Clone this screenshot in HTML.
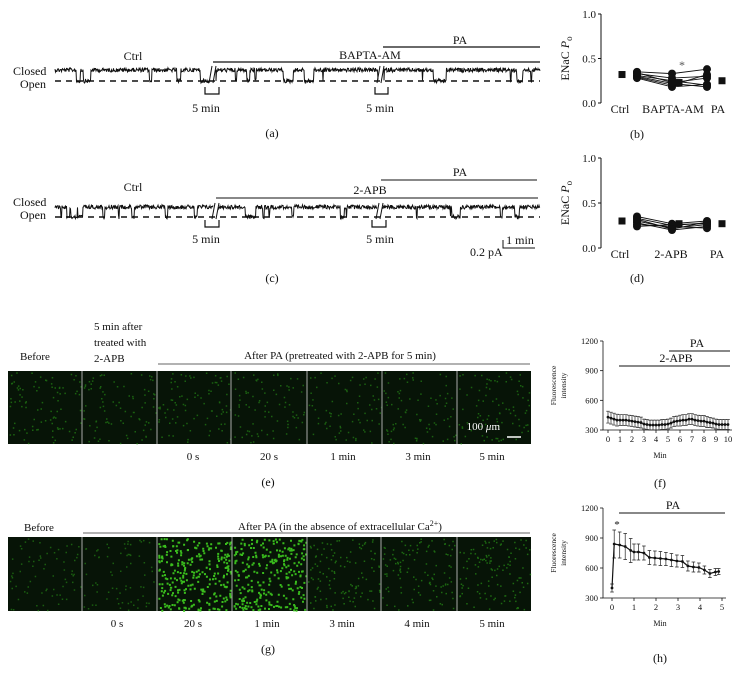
<!DOCTYPE html>
<html><head><meta charset="utf-8"><style>
html,body{margin:0;padding:0;background:#fff;}
svg{display:block;font-family:"Liberation Serif",serif;}
</style></head><body>
<svg id="fig" width="740" height="676" viewBox="0 0 740 676" xmlns="http://www.w3.org/2000/svg">
<g id="static" fill="#111" font-size="12">
<text x="13" y="75">Closed</text>
<text x="20" y="88">Open</text>
<text x="133" y="60" text-anchor="middle">Ctrl</text>
<text x="370" y="59" text-anchor="middle">BAPTA-AM</text>
<line x1="213" y1="62" x2="540" y2="62" stroke="#111" stroke-width="1.2"/>
<text x="460" y="44" text-anchor="middle">PA</text>
<line x1="383" y1="47" x2="540" y2="47" stroke="#111" stroke-width="1.2"/>
<text x="206" y="112" text-anchor="middle">5 min</text>
<text x="380" y="112" text-anchor="middle">5 min</text>
<text x="272" y="137" text-anchor="middle">(a)</text>
<text x="13" y="206">Closed</text>
<text x="20" y="219">Open</text>
<text x="133" y="191" text-anchor="middle">Ctrl</text>
<text x="370" y="194" text-anchor="middle">2-APB</text>
<line x1="216" y1="198" x2="538" y2="198" stroke="#111" stroke-width="1"/>
<text x="460" y="176" text-anchor="middle">PA</text>
<line x1="381" y1="180" x2="537" y2="180" stroke="#111" stroke-width="1"/>
<text x="206" y="243" text-anchor="middle">5 min</text>
<text x="380" y="243" text-anchor="middle">5 min</text>
<text x="520" y="244" text-anchor="middle">1 min</text>
<text x="470" y="256">0.2 pA</text>
<polyline points="503,240 503,248 535,248" fill="none" stroke="#111" stroke-width="1"/>
<text x="272" y="282" text-anchor="middle">(c)</text>
<text x="637" y="138" text-anchor="middle">(b)</text>
<text x="637" y="282" text-anchor="middle">(d)</text>
<text x="20" y="360" font-size="11">Before</text>
<text x="94" y="330" font-size="11"><tspan x="94">5 min after</tspan><tspan x="94" dy="16">treated with</tspan><tspan x="94" dy="16">2-APB</tspan></text>
<text x="340" y="359" text-anchor="middle" font-size="11">After PA (pretreated with 2-APB for 5 min)</text>
<line x1="158" y1="364" x2="530" y2="364" stroke="#333" stroke-width="0.8"/>
<text x="268" y="486" text-anchor="middle">(e)</text>
<text x="24" y="531" font-size="11">Before</text>
<text x="340" y="530" text-anchor="middle" font-size="11">After PA (in the absence of extracellular Ca<tspan dy="-4" font-size="8">2+</tspan><tspan dy="4">)</tspan></text>
<line x1="83" y1="533" x2="530" y2="533" stroke="#333" stroke-width="0.8"/>
<text x="268" y="653" text-anchor="middle">(g)</text>
<text x="660" y="487" text-anchor="middle">(f)</text>
<text x="660" y="662" text-anchor="middle">(h)</text>
</g>
<g id="dyn"></g>
</svg>
<script>
const bCtrl = [0.35,0.33,0.31,0.30,0.29,0.28,0.34];
const bBapta = [0.33,0.28,0.25,0.22,0.20,0.18,0.23];
const bPA = [0.38,0.30,0.20,0.18,0.32,0.21,0.28];
const bMeans = [0.32,0.23,0.25];
const dCtrl = [0.35,0.33,0.30,0.28,0.26,0.24,0.32];
const dApb = [0.27,0.25,0.22,0.20,0.24,0.26,0.21];
const dPA = [0.30,0.28,0.26,0.24,0.22,0.27,0.29];
const dMeans = [0.30,0.27,0.27];
const poTicks = [0.0,0.5,1.0];
const fTime = [0,0.25,0.5,0.75,1,1.25,1.5,1.75,2,2.25,2.5,2.75,3,3.25,3.5,3.75,4,4.25,4.5,4.75,5,5.25,5.5,5.75,6,6.25,6.5,6.75,7,7.25,7.5,7.75,8,8.25,8.5,8.75,9,9.25,9.5,9.75,10];
const fMean = [430,420,410,400,400,400,400,395,390,385,380,375,360,355,350,350,350,350,355,355,360,370,385,390,395,400,400,410,410,400,395,390,390,380,375,370,360,355,355,355,355];
const fErr = [60,60,60,60,55,55,55,55,55,55,55,55,50,50,50,50,50,50,50,50,50,50,50,50,55,55,55,55,55,55,55,55,55,55,50,50,50,50,50,50,50];
const hTime = [0,0.1,0.35,0.6,0.85,1.0,1.2,1.45,1.7,1.95,2.2,2.45,2.7,2.95,3.2,3.45,3.7,3.95,4.2,4.45,4.7,4.85];
const hMean = [400,840,830,815,775,760,760,750,705,700,695,690,680,670,665,620,610,605,580,545,560,565];
const hErr = [40,140,130,130,120,80,80,70,70,70,70,65,65,60,60,50,50,45,40,40,35,30];
const fTicksX = [0,1,2,3,4,5,6,7,8,9,10];
const hTicksX = [0,1,2,3,4,5];
const fluoTicks = [300,600,900,1200];

const NS='http://www.w3.org/2000/svg';
const dyn=document.getElementById('dyn');
function mk(tag,attrs,parent){const e=document.createElementNS(NS,tag);for(const k in attrs)e.setAttribute(k,attrs[k]);(parent||dyn).appendChild(e);return e;}
let seed=12345;function rnd(){seed=(seed*1103515245+12345)&0x7fffffff;return seed/0x7fffffff;}

function trace(y0,y1,x0,x1,breaks,name,flick){
  const g=mk('g',{});
  
  
  const dl=mk('line',{x1:x0,y1:y1,x2:x1,y2:y1,stroke:'#111','stroke-width':1.4,'stroke-dasharray':'6,5'},g);
  
  
  let d='M'+x0+' '+y0;let open=false;
  for(let x=x0;x<=x1;x+=0.5){
    let skip=breaks.some(b=>x>b-3&&x<b+3);
    if(skip){d+=' M'+(x+0.5)+' '+y0;continue;}
    if(!open&&rnd()<flick){open=true;}else if(open&&rnd()<0.15){open=false;}
    const base=open?y1:y0;
    d+=' L'+x+' '+(base+(rnd()-0.5)*4).toFixed(1);
  }
  const p=mk('path',{d:d,fill:'none',stroke:'#111','stroke-width':1},g);
  
  
  breaks.forEach(b=>{
    const s=mk('path',{d:`M${b-4} ${y1+2} L${b-1} ${y0-4} M${b} ${y1+2} L${b+3} ${y0-4}`,stroke:'#111','stroke-width':1,fill:'none'},g);
    
    
  });
}
trace(70,81,55,540,[213,381],'trace-a',0.02);
trace(207,217,55,540,[216,380],'trace-c',0.03);
[[205,219,87,94],[375,388,87,94],[205,219,220,227],[372,386,220,227]].forEach(b=>{
  const br=mk('polyline',{points:`${b[0]},${b[2]} ${b[0]},${b[3]} ${b[1]},${b[3]} ${b[1]},${b[2]}`,fill:'none',stroke:'#111','stroke-width':1.2});
  
  
});

function poPanel(yTop,yBot,ctrl,mid,pa,means,labels,labelX,name,star){
  const g=mk('g',{});
  
  
  const ax=601;
  const ys=v=>yBot-(v)*(yBot-yTop);
  const axl=mk('line',{x1:ax,y1:yTop,x2:ax,y2:yBot,stroke:'#111','stroke-width':1},g);
  
  
  poTicks.forEach(t=>{
    const tk=mk('line',{x1:ax-3,y1:ys(t),x2:ax,y2:ys(t),stroke:'#111'},g);
    
    
    const tl=mk('text',{x:ax-5,y:ys(t)+4,'text-anchor':'end','font-size':11,fill:'#111'},g);
    
    
    tl.textContent=t.toFixed(1);
  });
  const yl=mk('text',{transform:`translate(569,${(yTop+yBot)/2}) rotate(-90)`,'text-anchor':'middle','font-size':12,fill:'#111'},g);
  
  
  yl.innerHTML='ENaC <tspan font-style="italic">P</tspan><tspan font-size="9" dy="3">o</tspan>';
  const cx=[637,672,707];const cols=[ctrl,mid,pa];
  for(let i=0;i<ctrl.length;i++){
    const ln=mk('polyline',{points:`${cx[0]},${ys(ctrl[i])} ${cx[1]},${ys(mid[i])} ${cx[2]},${ys(pa[i])}`,fill:'none',stroke:'#111','stroke-width':0.9},g);
    
    
  }
  cols.forEach((arr,ci)=>arr.forEach(v=>{
    const c=mk('circle',{cx:cx[ci],cy:ys(v),r:4,fill:'#111'},g);
    
    
  }));
  [[622,means[0]],[679,means[1]],[722,means[2]]].forEach(m=>{
    const s=mk('rect',{x:m[0]-3.5,y:ys(m[1])-3.5,width:7,height:7,fill:'#111'},g);
    
    
  });
  labels.forEach((l,i)=>{
    const t=mk('text',{x:labelX[i],y:yBot+10,'text-anchor':'middle','font-size':12,fill:'#111'},g);
    
    
    t.textContent=l;
  });
  if(star){const st=mk('text',{x:682,y:ys(0.38),'text-anchor':'middle','font-size':12,fill:'#555'},g);
    
    
    st.textContent='*';}
}
poPanel(14,103,bCtrl,bBapta,bPA,bMeans,['Ctrl','BAPTA-AM','PA'],[620,673,718],'po-chart-b',true);
poPanel(158,248,dCtrl,dApb,dPA,dMeans,['Ctrl','2-APB','PA'],[620,671,717],'po-chart-d',false);

function imgRow(y0,y1,edges,bright,name){
  const g=mk('g',{});
  
  
  for(let i=0;i<edges.length-1;i++){
    const x0=edges[i],x1=edges[i+1];
    const r=mk('rect',{x:x0,y:y0,width:x1-x0,height:y1-y0,fill:'#071407'},g);
    
    
    const b=bright[i];const n=Math.round(40+b*260);
    let d='';
    for(let k=0;k<n;k++){const x=x0+1+rnd()*(x1-x0-2),y=y0+1+rnd()*(y1-y0-2);const s=b>0.5?2:1.5;d+=`M${x.toFixed(1)} ${y.toFixed(1)}h${s}v${s}h-${s}z`;}
    const p=mk('path',{d:d,fill:b>0.5?'#40d020':'#2a9a18','fill-opacity':0.5+0.45*b},g);
    
    
    if(i>0){const sep=mk('line',{x1:x0,y1:y0,x2:x0,y2:y1,stroke:'#aaa','stroke-width':1},g);
      
      }
  }
}
imgRow(371,444,[8,82,157,231,307,382,457,531],[0.2,0.18,0.18,0.16,0.14,0.16,0.18],'image-row-e');
imgRow(537,611,[8,82,157,232,307,381,457,531],[0.12,0.12,0.9,0.85,0.3,0.28,0.3],'image-row-g');
const sb=mk('text',{x:500,y:430,'text-anchor':'end','font-size':11,fill:'#fff'});


sb.innerHTML='100 <tspan font-style="italic">μ</tspan>m';
const sbl=mk('line',{x1:507,y1:437,x2:521,y2:437,stroke:'#fff','stroke-width':1.5});


[['0 s',193],['20 s',269],['1 min',343],['3 min',418],['5 min',492]].forEach(l=>{
  const t=mk('text',{x:l[1],y:460,'text-anchor':'middle','font-size':11,fill:'#111'});
  
  
  t.textContent=l[0];
});
[['0 s',117],['20 s',193],['1 min',267],['3 min',342],['4 min',417],['5 min',492]].forEach(l=>{
  const t=mk('text',{x:l[1],y:627,'text-anchor':'middle','font-size':11,fill:'#111'});
  
  
  t.textContent=l[0];
});

function fluoChart(yTop,yBot,x0,x1,xmax,xt,T,M,E,name,bars,star){
  const g=mk('g',{});
  
  
  const ax=603;
  const xs=v=>x0+v/xmax*(x1-x0);
  const ys=v=>yBot-(v-300)/900*(yBot-yTop);
  const a1=mk('polyline',{points:`${ax},${yTop} ${ax},${yBot} ${x1+4},${yBot}`,fill:'none',stroke:'#111','stroke-width':0.8},g);
  
  
  fluoTicks.forEach(t=>{
    const tk=mk('line',{x1:ax-3,y1:ys(t),x2:ax,y2:ys(t),stroke:'#111','stroke-width':0.8},g);
    
    
    const tl=mk('text',{x:ax-5,y:ys(t)+3,'text-anchor':'end','font-size':8.5,fill:'#111'},g);
    
    
    tl.textContent=t;
  });
  xt.forEach(t=>{
    const tk=mk('line',{x1:xs(t),y1:yBot,x2:xs(t),y2:yBot+3,stroke:'#111','stroke-width':0.8},g);
    
    
    const tl=mk('text',{x:xs(t),y:yBot+12,'text-anchor':'middle','font-size':8.5,fill:'#111'},g);
    
    
    tl.textContent=t;
  });
  const xl=mk('text',{x:660,y:yBot+28,'text-anchor':'middle','font-size':8,fill:'#111'},g);
  
  
  xl.textContent='Min';
  const yl=mk('text',{transform:`translate(556,${(yTop+yBot)/2}) rotate(-90)`,'text-anchor':'middle','font-size':7.5,fill:'#111'},g);
  
  
  yl.innerHTML='<tspan x="0" dy="0">Fluorescence</tspan><tspan x="0" dy="10">intensity</tspan>';
  T.forEach((t,i)=>{
    const eb=mk('path',{d:`M${xs(t)} ${ys(M[i]-E[i])}V${ys(M[i]+E[i])}M${xs(t)-1.8} ${ys(M[i]-E[i])}h3.6M${xs(t)-1.8} ${ys(M[i]+E[i])}h3.6`,stroke:'#222','stroke-width':0.7,fill:'none'},g);
    
    
  });
  const ln=mk('polyline',{points:T.map((t,i)=>xs(t)+','+ys(M[i])).join(' '),fill:'none',stroke:'#111','stroke-width':1.2},g);
  
  
  T.forEach((t,i)=>{
    const c=mk('circle',{cx:xs(t),cy:ys(M[i]),r:1.4,fill:'#111'},g);
    
    
  });
  bars.forEach(b=>{
    const l=mk('line',{x1:b[0],y1:b[2],x2:b[1],y2:b[2],stroke:'#111','stroke-width':1},g);
    
    
    const t=mk('text',{x:b[4],y:b[2]-4,'text-anchor':'middle','font-size':12,fill:'#111'},g);
    
    
    t.textContent=b[3];
  });
  if(star){const s=mk('text',{x:star[0],y:star[1],'text-anchor':'middle','font-size':11,fill:'#111'},g);
    
    
    s.textContent='*';}
}
fluoChart(341,430,608,728,10,fTicksX,fTime,fMean,fErr,'fluorescence-chart-f',[[619,730,366,'2-APB',676],[669,730,351,'PA',697]],null);
fluoChart(508,598,612,722,5,hTicksX,hTime,hMean,hErr,'fluorescence-chart-h',[[619,725,513,'PA',673]],[617,528]);
</script>
</body></html>
